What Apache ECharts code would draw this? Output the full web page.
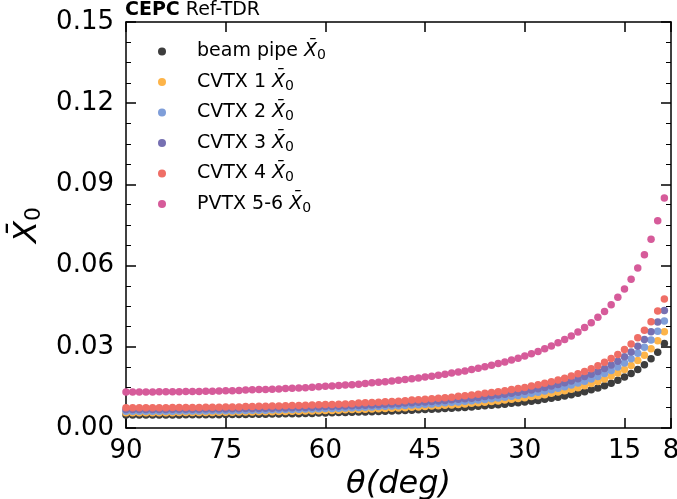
<!DOCTYPE html>
<html><head><meta charset="utf-8">
<script src="https://cdn.jsdelivr.net/npm/echarts@6/dist/echarts.min.js"></script>
<style>html,body{margin:0;padding:0;background:#fff}#c{width:677px;height:499px}</style>
</head><body><div id="c"></div>
<script>
// theta in degrees (90 down to 9)
const theta = [90,89,88,87,86,85,84,83,82,81,
  80,79,78,77,76,75,74,73,72,71,
  70,69,68,67,66,65,64,63,62,61,
  60,59,58,57,56,55,54,53,52,51,
  50,49,48,47,46,45,44,43,42,41,
  40,39,38,37,36,35,34,33,32,31,
  30,29,28,27,26,25,24,23,22,21,
  20,19,18,17,16,15,14,13,12,11,
  10,9];
const beamPipe = [0.0048,0.0048,0.0048,0.0048,0.0048,0.0048,0.0048,0.0048,0.0048,0.0049,
  0.0049,0.0049,0.0049,0.0049,0.0049,0.0050,0.0050,0.0050,0.0050,0.0051,
  0.0051,0.0051,0.0052,0.0052,0.0053,0.0053,0.0053,0.0054,0.0054,0.0055,
  0.0055,0.0056,0.0057,0.0057,0.0058,0.0059,0.0059,0.0060,0.0061,0.0062,
  0.0063,0.0064,0.0065,0.0066,0.0067,0.0068,0.0069,0.0070,0.0072,0.0073,
  0.0075,0.0076,0.0078,0.0080,0.0082,0.0084,0.0086,0.0088,0.0091,0.0093,
  0.0096,0.0099,0.0102,0.0106,0.0110,0.0114,0.0118,0.0123,0.0128,0.0134,
  0.0141,0.0148,0.0156,0.0165,0.0176,0.0188,0.0201,0.0216,0.0234,0.0256,
  0.0280,0.0312];
const cvtx1 = [0.0056,0.0056,0.0056,0.0056,0.0056,0.0056,0.0056,0.0056,0.0057,0.0057,
  0.0057,0.0057,0.0057,0.0057,0.0058,0.0058,0.0058,0.0059,0.0059,0.0059,
  0.0060,0.0060,0.0060,0.0061,0.0061,0.0062,0.0062,0.0063,0.0063,0.0064,
  0.0065,0.0065,0.0066,0.0067,0.0068,0.0068,0.0069,0.0070,0.0071,0.0072,
  0.0073,0.0074,0.0075,0.0077,0.0078,0.0079,0.0081,0.0082,0.0084,0.0085,
  0.0087,0.0089,0.0091,0.0093,0.0095,0.0098,0.0100,0.0103,0.0106,0.0109,
  0.0112,0.0116,0.0119,0.0123,0.0128,0.0133,0.0138,0.0143,0.0149,0.0156,
  0.0164,0.0172,0.0181,0.0192,0.0203,0.0216,0.0231,0.0249,0.0269,0.0293,
  0.0322,0.0356];
const cvtx2 = [0.0062,0.0062,0.0062,0.0062,0.0062,0.0062,0.0062,0.0062,0.0063,0.0063,
  0.0063,0.0063,0.0063,0.0064,0.0064,0.0064,0.0064,0.0065,0.0065,0.0066,
  0.0066,0.0066,0.0067,0.0067,0.0068,0.0068,0.0069,0.0070,0.0070,0.0071,
  0.0072,0.0072,0.0073,0.0074,0.0075,0.0076,0.0077,0.0078,0.0079,0.0080,
  0.0081,0.0082,0.0083,0.0085,0.0086,0.0088,0.0089,0.0091,0.0093,0.0095,
  0.0096,0.0099,0.0101,0.0103,0.0105,0.0108,0.0111,0.0114,0.0117,0.0120,
  0.0124,0.0128,0.0132,0.0137,0.0141,0.0147,0.0152,0.0159,0.0166,0.0173,
  0.0181,0.0190,0.0201,0.0212,0.0225,0.0240,0.0256,0.0276,0.0298,0.0325,
  0.0357,0.0395];
const cvtx3 = [0.0068,0.0068,0.0068,0.0068,0.0068,0.0068,0.0068,0.0069,0.0069,0.0069,
  0.0069,0.0069,0.0070,0.0070,0.0070,0.0070,0.0071,0.0071,0.0072,0.0072,
  0.0072,0.0073,0.0073,0.0074,0.0074,0.0075,0.0076,0.0076,0.0077,0.0078,
  0.0079,0.0079,0.0080,0.0081,0.0082,0.0083,0.0084,0.0085,0.0086,0.0088,
  0.0089,0.0090,0.0092,0.0093,0.0095,0.0096,0.0098,0.0100,0.0102,0.0104,
  0.0106,0.0108,0.0110,0.0113,0.0116,0.0119,0.0122,0.0125,0.0128,0.0132,
  0.0136,0.0140,0.0145,0.0150,0.0155,0.0161,0.0167,0.0174,0.0182,0.0190,
  0.0199,0.0209,0.0220,0.0233,0.0247,0.0263,0.0281,0.0302,0.0327,0.0356,
  0.0392,0.0434];
const cvtx4 = [0.0075,0.0075,0.0075,0.0075,0.0075,0.0075,0.0075,0.0076,0.0076,0.0076,
  0.0076,0.0076,0.0077,0.0077,0.0077,0.0078,0.0078,0.0078,0.0079,0.0079,
  0.0080,0.0080,0.0081,0.0081,0.0082,0.0083,0.0083,0.0084,0.0085,0.0086,
  0.0087,0.0087,0.0088,0.0089,0.0090,0.0092,0.0093,0.0094,0.0095,0.0097,
  0.0098,0.0099,0.0101,0.0103,0.0104,0.0106,0.0108,0.0110,0.0112,0.0114,
  0.0117,0.0119,0.0122,0.0125,0.0128,0.0131,0.0134,0.0138,0.0142,0.0146,
  0.0150,0.0155,0.0160,0.0165,0.0171,0.0177,0.0184,0.0192,0.0200,0.0209,
  0.0219,0.0230,0.0243,0.0257,0.0272,0.0290,0.0310,0.0333,0.0361,0.0393,
  0.0432,0.0477];
const pvtx56 = [0.0133,0.0133,0.0133,0.0133,0.0133,0.0134,0.0134,0.0134,0.0134,0.0135,
  0.0135,0.0135,0.0136,0.0136,0.0137,0.0138,0.0138,0.0139,0.0140,0.0141,
  0.0142,0.0142,0.0143,0.0144,0.0146,0.0147,0.0148,0.0149,0.0151,0.0152,
  0.0154,0.0155,0.0157,0.0159,0.0160,0.0162,0.0164,0.0167,0.0169,0.0171,
  0.0174,0.0176,0.0179,0.0182,0.0185,0.0188,0.0191,0.0195,0.0199,0.0203,
  0.0207,0.0211,0.0216,0.0221,0.0226,0.0232,0.0238,0.0244,0.0251,0.0258,
  0.0266,0.0274,0.0283,0.0293,0.0303,0.0315,0.0327,0.0340,0.0355,0.0371,
  0.0389,0.0409,0.0430,0.0455,0.0483,0.0514,0.0550,0.0591,0.0640,0.0697,
  0.0766,0.0850];
const seriesNames = ['beam pipe','CVTX 1','CVTX 2','CVTX 3','CVTX 4','PVTX 5-6'];
const seriesValues = [beamPipe, cvtx1, cvtx2, cvtx3, cvtx4, pvtx56];
const seriesColors = ['#3d3d3d','#fdb449','#7f9ed9','#7670b2','#ef6e66','#d65b9a'];
const xTickLabels = [90,75,60,45,30,15,8];
const xMin = 8, xMax = 90;
const yMin = 0, yMax = 0.15, yStep = 0.03;

const FONT = 'DejaVu Sans';
const chart = echarts.init(document.getElementById('c'), null, {renderer:'canvas'});
const tickStyle = {color:'#000', width:1.5};
const minorStyle = {color:'#000', width:1};
const baseX = {
  type:'value', min:xMin, max:xMax, inverse:true,
  axisLine:{show:true, onZero:false, lineStyle:{color:'#000', width:1.5}},
  axisTick:{show:true, inside:true, length:10, lineStyle:tickStyle, customValues:xTickLabels},
  splitLine:{show:false}
};
const baseY = {
  type:'value', min:yMin, max:yMax, interval:yStep,
  axisLine:{show:true, onZero:false, lineStyle:{color:'#000', width:1.5}},
  axisTick:{show:true, inside:true, length:10, lineStyle:tickStyle},
  minorTick:{show:true, splitNumber:4, length:5, lineStyle:minorStyle},
  splitLine:{show:false}, minorSplitLine:{show:false}
};
const option = {
  animation:false,
  backgroundColor:'#fff',
  title:{
    left:125, top:1, padding:0,
    text:'{b|CEPC} {n|Ref-TDR}',
    textStyle:{fontWeight:'normal', fontFamily:FONT, fontSize:19, color:'#000', rich:{
      b:{fontFamily:FONT, fontSize:19, fontWeight:'bold', color:'#000'},
      n:{fontFamily:FONT, fontSize:19, fontWeight:'normal', color:'#000'}
    }}
  },
  grid:{left:126, right:6, top:22, bottom:71, show:false, containLabel:false, outerBoundsMode:'none'},
  legend:{
    orient:'vertical', left:158, top:42, itemWidth:8, itemHeight:8, itemGap:10,
    icon:'circle', padding:0,
    data:seriesNames,
    formatter: n => '{t|' + n + ' }{x|X\u0304}{s|0}',
    textStyle:{padding:[0,0,0,26], rich:{
      t:{fontFamily:FONT, fontSize:19, color:'#000', lineHeight:22},
      x:{fontFamily:FONT, fontSize:19, fontStyle:'italic', color:'#000', lineHeight:22},
      s:{fontFamily:FONT, fontSize:14, color:'#000', lineHeight:14, verticalAlign:'bottom'}
    }}
  },
  xAxis:[
    Object.assign({}, baseX, {
      position:'bottom',
      axisLabel:{show:true, customValues:xTickLabels, margin:10, fontFamily:FONT, fontSize:26, color:'#000'},
      name:'{i|\u03b8(deg)}', nameLocation:'middle', nameGap:24,
      nameTextStyle:{rich:{i:{fontFamily:FONT, fontSize:32, fontStyle:'italic', color:'#000'}}}
    }),
    Object.assign({}, baseX, {position:'top', axisLabel:{show:false}})
  ],
  yAxis:[
    Object.assign({}, baseY, {
      position:'left',
      axisLabel:{show:true, margin:12, fontFamily:FONT, fontSize:26, color:'#000', formatter:v=>v.toFixed(2)},
      name:'{x|X\u0304}{s|0}', nameLocation:'middle', nameRotate:90, nameGap:75,
      nameTextStyle:{rich:{
        x:{fontFamily:FONT, fontSize:32, fontStyle:'italic', color:'#000', lineHeight:36},
        s:{fontFamily:FONT, fontSize:22, color:'#000', lineHeight:22, verticalAlign:'bottom'}
      }}
    }),
    Object.assign({}, baseY, {position:'right', axisLabel:{show:false}})
  ],
  series: seriesNames.map((name, k) => ({
    name, type:'scatter', xAxisIndex:0, yAxisIndex:0,
    symbol:'circle', symbolSize:7.5, clip:true,
    itemStyle:{color:seriesColors[k], opacity:1},
    data: theta.map((t, i) => [t, seriesValues[k][i]])
  }))
};
chart.setOption(option);
</script>
</body></html>
